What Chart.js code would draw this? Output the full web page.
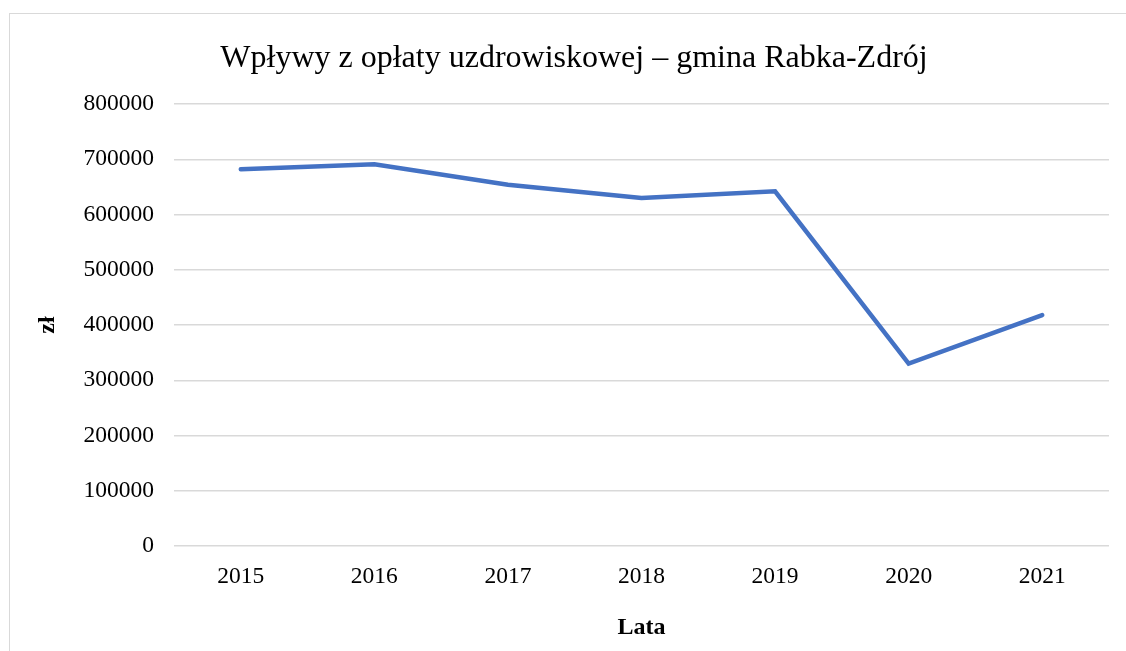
<!DOCTYPE html>
<html>
<head>
<meta charset="utf-8">
<script src="https://cdn.jsdelivr.net/npm/chart.js@4"></script>
<style>
  html, body { margin: 0; padding: 0; background: #fff; overflow: hidden; }
  #wrap { position: relative; width: 1126px; height: 651px; }
  #frame { position: absolute; left: 9px; top: 13px; width: 1200px; height: 700px;
           border-left: 1.5px solid #d9d9d9; border-top: 1.5px solid #d9d9d9; box-sizing: border-box; }
  canvas { position: absolute; left: 0; top: 0; }
</style>
</head>
<body>
<div id="wrap">
  <div id="frame"></div>
  <canvas id="c" width="1126" height="651"></canvas>
</div>
<script>
const titleText = 'Wpływy z opłaty uzdrowiskowej – gmina Rabka-Zdrój';
const years = ['2015', '2016', '2017', '2018', '2019', '2020', '2021'];
const revenue = [682000, 691000, 654000, 630000, 642000, 330000, 418000];
const yAxisTitle = 'zł';
const xAxisTitle = 'Lata';
const yMin = 0, yMax = 800000, yStep = 100000;

const serif = "'Liberation Serif', 'Times New Roman', serif";

new Chart(document.getElementById('c'), {
  type: 'line',
  data: {
    labels: years,
    datasets: [{
      data: revenue,
      borderColor: '#4472C4',
      borderWidth: 4.5,
      pointRadius: 0,
      pointHoverRadius: 0,
      tension: 0,
      borderCapStyle: 'round',
      borderJoinStyle: 'miter',
      fill: false
    }]
  },
  options: {
    responsive: false,
    animation: false,
    events: [],
    layout: { padding: { left: 39, top: 13, right: 17, bottom: 0 } },
    plugins: {
      legend: { display: false },
      tooltip: { enabled: false },
      title: {
        display: true,
        text: titleText,
        color: '#000',
        font: { family: serif, size: 32, weight: 'normal', lineHeight: 1.2 },
        padding: { top: 26, bottom: 26.6 }
      }
    },
    scales: {
      x: {
        offset: true,
        grid: { display: false, drawTicks: false },
        border: { display: false },
        ticks: { color: '#000', font: { family: serif, size: 23.5 }, padding: 16.5, maxRotation: 0 },
        title: {
          display: true, text: xAxisTitle, color: '#000',
          font: { family: serif, size: 24, weight: 'bold', lineHeight: 1.2 },
          padding: { top: 0, bottom: 9 }
        },
        afterFit: (s) => { s.height = 105; }
      },
      y: {
        min: yMin, max: yMax,
        grid: { color: '#d9d9d9', lineWidth: 1.5, drawTicks: false },
        border: { display: false },
        ticks: {
          stepSize: yStep, color: '#000', font: { family: serif, size: 23.5 }, padding: 20,
          callback: (v) => String(v)
        },
        title: {
          display: true, text: yAxisTitle, color: '#000',
          font: { family: serif, size: 24, weight: 'bold', lineHeight: 0.75 },
          padding: { top: 0, bottom: 0 }
        },
        afterFit: (s) => { s.width = 135; }
      }
    }
  }
});
</script>
</body>
</html>
